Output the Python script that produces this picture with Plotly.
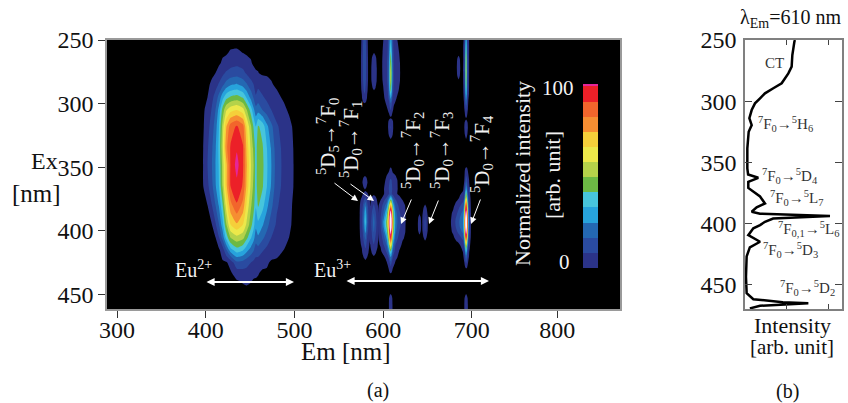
import plotly.graph_objects as go

W, H = 848, 403
FONT = "Liberation Serif"

# ---------- Panel (a) : excitation-emission map ----------
EM_EU2 = [390, 397, 402, 407, 411, 415, 419, 423, 428, 435, 442, 446, 451, 454, 456.5, 459, 464, 469, 474, 480, 488, 494, 499, 504]
EX_EU2 = [255, 260, 268, 276, 285, 295, 305, 318, 335, 348, 365, 380, 395, 405, 415, 425, 433, 440, 445]
Z_EU2 = [
    [0]*24,
    [0,0,0,0,0,0,0,0,2,3,0.8,0,0,0,0,0,0,0,0,0,0,0,0,0],
    [0,0,0,0,0,0,2,4,6,7,6,4,1.5,0,0,0,0,0,0,0,0,0,0,0],
    [0,0,0,0,1,4,7,10,12,13,11,8,5,3,1.5,1.2,0,0,0,0,0,0,0,0],
    [0,0,0,2,6,10,15,20,24,26,22,18,12,9,5,7,5,3.5,1.5,0,0,0,0,0],
    [0,0,1,7,12,20,30,38,42,44,40,32,22,16,10,13,10,7,5,2.5,0,0,0,0],
    [0,0,3,10,17,28,44,56,62,65,60,50,37,27,20,22,17,13,9,6,2.5,0,0,0],
    [0,0,6,13,21,33,52,72,85,90,84,66,50,40,33,42,38,27,19,10,6,3,0,0],
    [0,0.8,8,16,24,35,55,78,90,96,90,72,55,47,37,46,42,33,24,12,7,4,0.8,0],
    [0,1,9,17,25,34,52,70,90,100,90,74,57,49,37,46,43,34,25,13,7,4,1,0],
    [0,0.7,7,15,24,33,50,70,89,95,88,72,55,47,37,46,42,33,24,12,7,4,0.9,0],
    [0,0,1,9,17,26,40,60,78,88,78,64,50,44,34,42,36,27,19,10,6,3,0,0],
    [0,0,0,1,8,17,30,48,65,72,65,56,44,36,27,31,26,20,13,8,5,2,0,0],
    [0,0,0,0,1,9,20,36,50,55,52,44,34,28,21,24,19,14,9,6,3,1,0,0],
    [0,0,0,0,0,0,5,16,30,38,34,28,22,18,13,14,10,7,5,3,1,0,0,0],
    [0,0,0,0,0,0,0,0,4,15,14,12,9,7,6,5,3,2,0,0,0,0,0,0],
    [0,0,0,0,0,0,0,0,0,5,6,6,4,3,2.5,1.5,0,0,0,0,0,0,0,0],
    [0,0,0,0,0,0,0,0,0,0,1.5,2.5,1.2,0,0,0,0,0,0,0,0,0,0,0],
    [0]*24,
]

EM_A_UP = [574.5, 576, 577.5, 579, 580.5, 582, 583.5]
EX_A_UP = [246, 255, 268, 280, 290, 296, 300.5]
Z_A_UP = [[0,1.5,8,12,8,1.5,0],[0,2,10,15,10,2,0],[0,3,11,17,11,3,0],[0,3,10,15,10,3,0],
          [0,1.5,7,11,7,1.5,0],[0,0.5,3,6,3,0.5,0],[0]*7]

EM_B_UP = [586, 588, 589.7, 591.5, 593.5]
EX_B_UP = [259, 264, 272, 282, 288, 291]
Z_B_UP = [[0]*5,[0,1.5,4,1.5,0],[0,3,8,3,0],[0,2.5,6,2.5,0],[0,0.8,2,0.8,0],[0]*5]

EM_C_UP = [598, 600, 603, 605, 606.5, 607.5, 608.5, 609.5, 610.5, 612, 615, 618, 620]
EX_C_UP = [246, 252, 260, 268, 275, 282, 290, 296, 300, 305, 309, 311]
Z_C_UP = [
    [0,0.5,3,7,12,22,28,22,12,5,1,0,0],
    [0,1,4,8,14,26,34,26,14,6,2,0,0],
    [0,1.5,5,9,16,32,42,32,16,8,4,1,0],
    [0,2,6,10,18,38,50,38,18,9,5,2,0],
    [0,2,6,10,20,42,56,42,20,9,5,2.5,0],
    [0,1.5,5.5,10,20,40,54,40,20,9,5,2,0],
    [0,0.5,3.5,8,16,32,44,32,15,7,3,0.5,0],
    [0,0,2,6,11,20,26,20,9,4,1,0,0],
    [0,0,1,3,6,12,16,11,5,1.5,0,0,0],
    [0,0,0,0.8,3,7,9,6,2,0,0,0,0],
    [0,0,0,0,0,1.5,3,1.5,0,0,0,0,0],
    [0]*13,
]

EM_C_NECK = [605, 606.7, 608.5, 610.3, 612]
EX_C_NECK = [311, 314, 319, 324, 329]
Z_C_NECK = [[0]*5,[0,2,7,2,0],[0,3,10,3,0],[0,1.5,4,1.5,0],[0]*5]

EM_E_UP = [689.5, 691, 692, 693, 693.5, 694, 695, 696, 697.5]
EX_E_UP = [246, 255, 265, 275, 285, 292, 298, 304, 310, 312]
Z_E_UP = [
    [0,1,6,22,30,22,8,2,0],
    [0,2,9,30,42,30,10,3,0],
    [0,2,10,38,54,38,12,3,0],
    [0,2.5,10,40,58,40,12,3,0],
    [0,2,10,36,50,36,11,2.5,0],
    [0,1.5,8,28,36,28,9,2,0],
    [0,1,5,18,24,18,6,1,0],
    [0,0,2,8,12,8,2.5,0,0],
    [0,0,0,2,3,2,0,0,0],
    [0]*9,
]

EM_E_NECK = [691, 692.5, 693.5, 694.5, 696]
EX_E_NECK = [312, 315, 319, 324, 329]
Z_E_NECK = [[0]*5,[0,2,7,2,0],[0,3,10,3,0],[0,1.5,4,1.5,0],[0]*5]

EM_E_SIDE = [682.5, 684, 685, 686, 687.5]
EX_E_SIDE = [261, 265, 272, 278, 282]
Z_E_SIDE = [[0]*5,[0,1.5,3,1.5,0],[0,3,9,3,0],[0,1.5,4,1.5,0],[0]*5]

EM_A_LOW = [573, 576, 578, 580, 582, 584.5, 586]
EX_A_LOW = [368, 372, 376, 381, 387, 393, 399, 405, 411, 417, 422, 425]
Z_A_LOW = [
    [0]*7,[0,0.5,2,5,2,0.3,0],[0,2,8,14,8,1.5,0],[0,4,14,26,12,3,0],[0,6,18,33,16,4,0],
    [0,7,20,36,18,5,0],[0,5,16,30,14,3,0],[0,3,11,20,9,2,0],[0,1.5,7,12,6,1,0],
    [0,0.5,3,6,2.5,0,0],[0,0,0.5,1.5,0.5,0,0],[0]*7,
]

EM_A_TOP = [576, 578, 579.5, 581, 583]
EX_A_TOP = [356, 359, 362, 366, 369]
Z_A_TOP = [[0]*5,[0,1.5,3,1.5,0],[0,3,6,3,0],[0,1,2,1,0],[0]*5]

EM_B_LOW = [583, 585.5, 587.5, 589.5, 591.5, 594, 596]
EX_B_LOW = [371, 375, 380, 386, 393, 400, 407, 413, 418, 421]
Z_B_LOW = [
    [0]*7,[0,0,2,5,2,0,0],[0,1,6,10,6,1,0],[0,3,10,17,10,2.5,0],[0,4,13,20,13,3,0],
    [0,3,11,18,11,2.5,0],[0,2,8,12,7,1.5,0],[0,0.5,4,7,4,0.5,0],[0,0,1,2.5,1,0,0],[0]*7,
]

EM_C_LOW = [594, 597, 601, 604, 606, 607.5, 608.5, 609.5, 611, 614, 618, 622, 626]
EX_C_LOW = [349, 353, 360, 367, 371, 376, 380, 385, 390, 393, 397, 401, 406, 411, 416, 421, 426, 431, 434]
Z_C_LOW = [
    [0]*13,
    [0,0,0,0,0,2,3,2,0,0,0,0,0],
    [0,0,0,2,6,9,10,9,5,2,0,0,0],
    [0,0,1,4,8,12,14,11,7,2.5,0,0,0],
    [0,0,1,3,7,11,12,10,6,2,0,0,0],
    [0,1,8,14,26,38,46,40,22,10,4,1,0],
    [0,3,14,22,38,62,74,64,34,15,7,3,0],
    [0,6,19,32,54,92,112,90,48,20,10,5,0],
    [0,8,25,40,64,108,124,106,56,22,12,6,0],
    [0,9,29,44,68,112,128,110,58,23,12,6,0],
    [0,8,27,42,64,108,124,106,56,21,11,5,0],
    [0,6,21,36,56,96,112,92,50,19,9,4,0],
    [0,3,15,26,46,80,92,78,38,14,6,1.5,0],
    [0,1.5,10,18,34,58,66,56,26,9,3,0,0],
    [0,0,4,11,20,36,42,34,16,5,1,0,0],
    [0,0,0,3,9,18,24,18,8,2,0,0,0],
    [0,0,0,0,3,8,12,8,3,0,0,0,0],
    [0,0,0,0,0,2.5,5,2.5,0,0,0,0,0],
    [0]*13,
]

EM_C_STUB = [606, 607.3, 608.5, 609.7, 611]
EM_E_STUB = [691, 692.5, 693.5, 694.5, 696]
EX_STUB = [449, 453, 458, 465]
Z_STUB = [[0]*5,[0,2,5,2,0],[0,3,7,3,0],[0,3,7,3,0]]

EM_D = [643.5, 645.5, 647.3, 649, 651]
EX_D = [378, 382, 388, 394, 400, 405, 409]
Z_D = [[0]*5,[0,1,3,1,0],[0,2.5,9,2.5,0],[0,3,12,3,0],[0,2.5,10,2.5,0],[0,1,3,1,0],[0]*5]

EM_D_SIDE = [638.5, 640, 641, 642, 643.5]
EX_D_SIDE = [386, 390, 395, 400, 404]
Z_D_SIDE = [[0]*5,[0,1.5,4,1.5,0],[0,2.5,8,2.5,0],[0,1.5,4,1.5,0],[0]*5]

EM_E_LOW = [676, 679, 683, 687, 690, 691.5, 692.5, 693.5, 694.5, 695.5, 697, 699]
EX_E_LOW = [349, 353, 360, 367, 374, 378, 382, 386, 390, 393, 397, 401, 405, 409, 414, 420, 426, 430]
Z_E_LOW = [
    [0]*12,
    [0,0,0,0,0,0,2,4,3,1,0,0],
    [0,0,0,0,0,1,6,14,10,4,0.8,0],
    [0,0,0,0,0,3,14,30,20,7,1.5,0],
    [0,0,0,1.5,4,10,36,60,42,14,4,0],
    [0,0,1.5,6,10,20,60,84,64,22,5,0.5],
    [0,0.5,5,11,15,30,80,98,82,30,7,0.8],
    [0,2,8,15,20,38,96,112,98,36,8,1],
    [0,4,11,18,23,44,104,124,106,40,9,1],
    [0.5,5,12,19,25,46,108,128,108,42,9,1],
    [0,4,11,18,23,44,104,124,106,40,9,1],
    [0,2,8,14,19,38,94,112,96,34,7,0.8],
    [0,0,4,8,13,30,76,94,78,26,5,0.5],
    [0,0,0.5,2,6,18,50,72,52,15,3,0],
    [0,0,0,0,2,9,28,44,30,8,1.5,0],
    [0,0,0,0,0,3,12,22,14,4,0.5,0],
    [0,0,0,0,0,0.5,3,8,5,1,0,0],
    [0]*12,
]

X_TICKS = [300, 400, 500, 600, 700, 796.4]
X_TICK_TEXT = ["300", "400", "500", "600", "700", "800"]
Y_TICKS = [250, 300, 350, 400, 450]
CB_COLORS = ["#2B3388", "#2A4BA0", "#2468B2", "#27A3DC", "#47C5DC", "#6CB944",
             "#B5D24A", "#ECE84A", "#F5CF3A", "#F68E32", "#F2652C", "#EC2028", "#E6259A"]
CB_EDGES = [0, 8.225, 16.45, 24.675, 32.9, 41.125, 49.35, 57.575, 65.8, 74.025, 82.25, 90.475, 98.7, 100]
CB_LEVELS = [0, 1, 2, 3, 4, 5, 6, 7, 8, 9, 10, 11, 12]

# ---------- Panel (b) : excitation spectrum ----------
EX_SPEC = [250, 251.4, 262.3, 271.8, 277.3, 285.4, 289.5, 293.6, 297.7, 301.8, 307.3, 314, 319.6, 325, 338.6,
           355, 360, 362.7, 366, 371, 378, 383.7, 386.9, 390.5, 392, 394, 396, 398.7, 401.4, 404, 409.6, 415,
           419.6, 427, 443.7, 457, 462, 464.4, 465.2, 466.3, 467.4, 469.5]
I_SPEC = [51.5, 50.9, 48.8, 48.1, 44.7, 37.8, 29.2, 20.6, 15.5, 10.3, 6.9, 4.5, 6.9, 3.8, 2.4,
          2.4, 3.2, 13.7, 3.4, 3.4, 15.5, 20.6, 12, 6.9, 15.5, 87.6, 29, 20.6, 15.5, 8.6, 3.4, 15.5,
          5, 1.7, 1, 1.7, 8.6, 39, 65.3, 39.5, 15.5, 5]

# ---------- helpers ----------
def fx(px): return px / W
def fy(py): return 1 - py / H

LEVEL_COLORS = ["rgba(0,0,0,0)"] + CB_COLORS + ["#FFF4F8"]
n = len(LEVEL_COLORS) - 1
CONTOUR_SCALE = [[i / n, c] for i, c in enumerate(LEVEL_COLORS)]

fig = go.Figure()

BLOCKS = [
    (EM_EU2, EX_EU2, Z_EU2), (EM_A_UP, EX_A_UP, Z_A_UP), (EM_B_UP, EX_B_UP, Z_B_UP),
    (EM_C_UP, EX_C_UP, Z_C_UP), (EM_C_NECK, EX_C_NECK, Z_C_NECK), (EM_E_UP, EX_E_UP, Z_E_UP),
    (EM_E_NECK, EX_E_NECK, Z_E_NECK), (EM_E_SIDE, EX_E_SIDE, Z_E_SIDE), (EM_A_LOW, EX_A_LOW, Z_A_LOW),
    (EM_A_TOP, EX_A_TOP, Z_A_TOP), (EM_B_LOW, EX_B_LOW, Z_B_LOW), (EM_C_LOW, EX_C_LOW, Z_C_LOW),
    (EM_C_STUB, EX_STUB, Z_STUB), (EM_E_STUB, EX_STUB, Z_STUB), (EM_D, EX_D, Z_D),
    (EM_D_SIDE, EX_D_SIDE, Z_D_SIDE), (EM_E_LOW, EX_E_LOW, Z_E_LOW),
]
for em, ex, z in BLOCKS:
    fig.add_trace(go.Contour(
        x=em, y=ex, z=z, xaxis="x", yaxis="y", showscale=False, hoverinfo="skip",
        autocontour=False, contours=dict(start=1, end=105, size=8, coloring="fill", showlines=False),
        colorscale=CONTOUR_SCALE, line=dict(width=0, smoothing=0.5),
    ))

# colour bar: a one-column heatmap on its own small axes
m = len(CB_COLORS) - 1
cb_scale = [[i / m, c] for i, c in enumerate(CB_COLORS)]
fig.add_trace(go.Heatmap(
    x=[0, 1], y=CB_EDGES, z=[[v] for v in CB_LEVELS], xaxis="x3", yaxis="y3",
    colorscale=cb_scale, zmin=0, zmax=m, showscale=False, hoverinfo="skip",
))

fig.add_trace(go.Scatter(x=I_SPEC, y=EX_SPEC, mode="lines", xaxis="x2", yaxis="y2", hoverinfo="skip",
                         line=dict(color="#000000", width=2.5)))
# full-page helper axes that carry the labels
fig.add_trace(go.Scatter(x=[None], y=[None], mode="markers", xaxis="x4", yaxis="y4", hoverinfo="skip"))

ann = []
def txt(px, py, s, size, color="#111111", angle=0):
    ann.append(dict(x=px, y=py, xref="x4", yref="y4", text=s, showarrow=False,
                    textangle=angle, xanchor="center", yanchor="middle",
                    font=dict(family=FONT, size=size, color=color)))
def arrow(x0, y0, x1, y1, both=False, width=1, scale=1.0):
    ann.append(dict(x=x1, y=y1, xref="x4", yref="y4", text="", showarrow=True,
                    ax=x0 - x1, ay=y0 - y1, axref="pixel", ayref="pixel",
                    arrowcolor="#FFFFFF", arrowwidth=width, arrowhead=2, arrowsize=scale,
                    arrowside="end+start" if both else "end", startarrowhead=2,
                    startarrowsize=scale))

ARW = "\u2192"
def sym(a, b, c, d):
    return f"<sup>{a}</sup>D<sub>{b}</sub>{ARW}<sup>{c}</sup>F<sub>{d}</sub>"

WHITE = "#F2F2F2"
txt(327, 137, sym(5, 5, 7, 0), 21, WHITE, -90)
txt(350, 140, sym(5, 0, 7, 1), 21, WHITE, -90)
txt(412, 151, sym(5, 0, 7, 2), 21, WHITE, -90)
txt(441, 151, sym(5, 0, 7, 3), 21, WHITE, -90)
txt(481, 154, sym(5, 0, 7, 4), 21, WHITE, -90)
txt(522, 174, "Normalized intensity", 22, WHITE, -90)
txt(552, 175, "[arb. unit]", 22, WHITE, -90)
txt(558, 88, "100", 21, WHITE)
txt(564, 262, "0", 21, WHITE)
txt(193, 269, "Eu<sup>2+</sup>", 20, WHITE)
txt(332, 269, "Eu<sup>3+</sup>", 20, WHITE)
arrow(205, 282, 294, 282, both=True, width=1.8, scale=0.9)
arrow(345, 281, 489, 281, both=True, width=1.8, scale=0.9)
arrow(333, 182, 358, 201, scale=1.3)
arrow(349, 183, 374, 201, scale=1.3)
arrow(412, 198, 401, 224, scale=1.3)
arrow(439, 199, 429, 224, scale=1.3)
arrow(481, 198, 471, 224, scale=1.3)

txt(44, 161, "Ex", 24)
txt(36, 193, "[nm]", 25)
txt(346, 351, "Em [nm]", 25)
txt(378, 390, "(a)", 20)
txt(787, 391, "(b)", 20)
txt(790, 18, "\u03bb<sub>Em</sub>=610 nm", 20)
txt(792, 325, "Intensity", 22)
txt(792, 347, "[arb. unit]", 21)

GR = "#333333"
def fsym(a, b, c, d):
    return f"<sup>{a}</sup>F<sub>{b}</sub>{ARW}<sup>{c}</sup>{d}"
txt(774, 63, "CT", 15, GR)
txt(785, 124, fsym(7, 0, 5, "H<sub>6</sub>"), 15, GR)
txt(790, 176, fsym(7, 0, 5, "D<sub>4</sub>"), 15, GR)
txt(797, 198, fsym(7, 0, 5, "L<sub>7</sub>"), 15, GR)
txt(808, 229, fsym(7, "0,1", 5, "L<sub>6</sub>"), 15, GR)
txt(790, 250, fsym(7, 0, 5, "D<sub>3</sub>"), 15, GR)
txt(807, 288, fsym(7, 0, 5, "D<sub>2</sub>"), 15, GR)

axis_font = dict(family=FONT, size=24, color="#111111")
fig.update_layout(
    width=W, height=H, autosize=False, margin=dict(l=0, r=0, t=0, b=0, pad=0),
    paper_bgcolor="#FFFFFF", plot_bgcolor="rgba(0,0,0,0)", showlegend=False, annotations=ann,
    shapes=[dict(type="rect", xref="x domain", yref="y domain", x0=0, x1=1, y0=0, y1=1,
                 fillcolor="#000000", line=dict(width=0), layer="below")],
    xaxis=dict(domain=[fx(107), fx(620)], range=[288.7, 867], tickvals=X_TICKS, ticktext=X_TICK_TEXT,
               ticks="outside", ticklen=7, tickwidth=1.2, tickcolor="#333333", showgrid=False, zeroline=False,
               showline=True, linecolor="#9A9A9A", linewidth=1.5, mirror=True, automargin=False,
               tickfont=axis_font, anchor="y", ticklabelstandoff=-9),
    yaxis=dict(domain=[fy(309), fy(40)], range=[461.5, 250], tickvals=Y_TICKS,
               ticks="outside", ticklen=7, tickwidth=1.2, tickcolor="#333333", showgrid=False, zeroline=False,
               showline=True, linecolor="#9A9A9A", linewidth=1.5, mirror=True, automargin=False,
               tickfont=axis_font, anchor="x"),
    xaxis2=dict(domain=[fx(745), fx(842)], range=[0, 100], tickvals=[43, 86], showticklabels=False,
                ticks="inside", ticklen=5, tickwidth=1, tickcolor="#444444", showgrid=False, zeroline=False,
                showline=True, linecolor="#808080", linewidth=1.5, mirror="ticks", automargin=False, anchor="y2"),
    yaxis2=dict(domain=[fy(309), fy(40)], range=[470, 250], tickvals=Y_TICKS,
                ticks="inside", ticklen=7, tickwidth=1, tickcolor="#444444", showgrid=False, zeroline=False,
                showline=True, linecolor="#808080", linewidth=1.5, mirror="ticks", automargin=False,
                tickfont=axis_font, anchor="x2", ticklabelstandoff=2),
    xaxis3=dict(domain=[fx(583), fx(598)], range=[0, 1], visible=False, automargin=False, anchor="y3"),
    yaxis3=dict(domain=[fy(268), fy(84)], range=[0, 100], visible=False, automargin=False, anchor="x3"),
    xaxis4=dict(domain=[0, 1], range=[0, W], visible=False, automargin=False, anchor="y4"),
    yaxis4=dict(domain=[0, 1], range=[H, 0], visible=False, automargin=False, anchor="x4"),
)

fig.write_html("out.html", config={"displayModeBar": False},
               post_script="document.body.style.margin='0';")
